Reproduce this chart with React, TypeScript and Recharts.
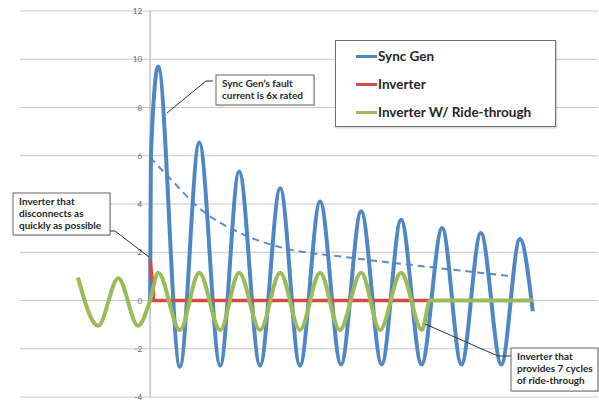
import {
  LineChart, Line, XAxis, YAxis, CartesianGrid, ReferenceLine, Legend,
} from "recharts";

// time axis in cycles (fault at t = 0), current in per-unit
const syncGenT = [0, 0.02, 0.2, 0.74, 1.22, 1.74, 2.21, 2.73, 3.23, 3.72, 4.22, 4.74, 5.24, 5.75, 6.23, 6.74, 7.25, 7.73, 8.21, 8.72, 9.18, 9.5];
const syncGenI = [0, 6.0, 9.7, -2.75, 6.55, -2.7, 5.35, -2.7, 4.65, -2.7, 4.1, -2.65, 3.7, -2.65, 3.35, -2.65, 3.0, -2.65, 2.8, -2.65, 2.55, -0.45];

const envelopeT = [0, 0.5, 1.24, 2.23, 3.3, 4.85, 6.77, 9.0];
const envelopeI = [5.93, 5.05, 3.8, 2.8, 2.18, 1.8, 1.42, 1.0];

const inverterT = [0, 0.05, 0.08, 0.08, 6.95];
const inverterI = [1.7, 0.9, 0.9, 0, 0];

const rideT = [-1.79, -1.29, -0.79, -0.3, 0, 0.2, 0.74, 1.22, 1.74, 2.21, 2.73, 3.23, 3.72, 4.22, 4.71, 5.24, 5.71, 6.23, 6.75, 6.95, 9.5];
const rideI = [0.95, -1.05, 0.92, -1.05, 0, 1.15, -1.22, 1.15, -1.22, 1.15, -1.22, 1.15, -1.22, 1.15, -1.22, 1.15, -1.22, 1.15, -1.22, 0, 0];

const yTicks = [-4, -2, 0, 2, 4, 6, 8, 10, 12];

const seriesNames = ["Sync Gen", "Inverter", "Inverter W/ Ride-through"];
const seriesColors = ["#4f87c5", "#d24b45", "#9bbb59"];

const toPoints = (t: number[], v: number[]) => t.map((x, i) => ({ t: x, v: v[i] }));

const W = 599;
const H = 401;
const Y_AXIS_W = 1;
const M = { top: 11, right: 1, bottom: 4, left: 19 };
const X_MIN = -3.23;
const X_MAX = 11.12;
const plotLeft = M.left + Y_AXIS_W;
const plotW = W - plotLeft - M.right;
const zeroX = plotLeft + ((0 - X_MIN) / (X_MAX - X_MIN)) * plotW;

const FONT = "Lato, 'Liberation Sans', sans-serif";

function YTick(props: any) {
  const { y, payload } = props;
  return (
    <text x={zeroX - 8} y={y} dy={3} textAnchor="end" fontSize={8} fill="#666" fontFamily={FONT}>
      {payload.value}
    </text>
  );
}

function LegendBox() {
  return (
    <div
      style={{
        width: 219, height: 85, border: "1px solid #6f6f6f", background: "#fff",
        boxShadow: "1px 1px 2px rgba(0,0,0,0.2)", fontFamily: FONT, fontWeight: 700,
        fontSize: 13.5, color: "#262626", boxSizing: "content-box",
      }}
    >
      {seriesNames.map((name, i) => (
        <div key={name} style={{ display: "flex", alignItems: "center", height: 28, marginTop: i === 0 ? 1 : 0 }}>
          <span style={{ display: "inline-block", width: 21, height: 3, background: seriesColors[i], marginLeft: 20 }} />
          <span style={{ marginLeft: 1 }}>{name}</span>
        </div>
      ))}
    </div>
  );
}

function Callout({ x, y, w, h, lines, leader }: { x: number; y: number; w: number; h: number; lines: string[]; leader: string }) {
  return (
    <g>
      <polyline points={leader} fill="none" stroke="#333" strokeWidth={1} />
      <rect x={x + 1} y={y + 1} width={w} height={h} fill="rgba(0,0,0,0.15)" />
      <rect x={x} y={y} width={w} height={h} fill="#fff" stroke="#666" strokeWidth={1} />
      {lines.map((ln, i) => (
        <text key={i} x={x + 6} y={y + 12 + i * 12} fontSize={10} fontWeight={700} fill="#262626" fontFamily={FONT}>
          {ln}
        </text>
      ))}
    </g>
  );
}

export default function App() {
  return (
    <div style={{ position: "absolute", left: 0, top: 0, width: W, height: H, background: "#fff" }}>
      <LineChart width={W} height={H} margin={M}>
        <CartesianGrid vertical={false} stroke="#c8c8c8" />
        <XAxis dataKey="t" type="number" domain={[X_MIN, X_MAX]} allowDataOverflow hide />
        <YAxis
          type="number" domain={[-4, 12]} ticks={yTicks} width={Y_AXIS_W}
          axisLine={false} tickLine={false} tick={(p: any) => <YTick {...p} />} interval={0}
        />
        <ReferenceLine x={0} stroke="#b4b4b4" strokeWidth={1.2} />
        <Legend
          layout="vertical" align="center" verticalAlign="middle"
          content={() => <LegendBox />}
          wrapperStyle={{ position: "absolute", left: 335, top: 40, width: 221, height: 87 }}
        />
        <Line
          data={toPoints(envelopeT, envelopeI)} dataKey="v" type="monotone"
          stroke="#5a8ccc" strokeWidth={2} strokeDasharray="7 5" dot={false}
          isAnimationActive={false} legendType="none"
        />
        <Line
          data={toPoints(syncGenT, syncGenI)} dataKey="v" name={seriesNames[0]} type="monotone"
          stroke={seriesColors[0]} strokeWidth={4} dot={false} isAnimationActive={false}
        />
        <Line
          data={toPoints(inverterT, inverterI)} dataKey="v" name={seriesNames[1]} type="linear"
          stroke={seriesColors[1]} strokeWidth={3.5} dot={false} isAnimationActive={false}
        />
        <Line
          data={toPoints(rideT, rideI)} dataKey="v" name={seriesNames[2]} type="monotone"
          stroke={seriesColors[2]} strokeWidth={4} dot={false} isAnimationActive={false}
        />
      </LineChart>
      <svg width={W} height={H} style={{ position: "absolute", left: 0, top: 0, pointerEvents: "none" }}>
        <Callout
          x={216} y={75} w={98} h={30}
          lines={["Sync Gen\u2019s fault", "current is 6x rated"]}
          leader="213,81 206,81 167,113"
        />
        <Callout
          x={13} y={193} w={97} h={42}
          lines={["Inverter that", "disconnects as", "quickly as possible"]}
          leader="110,231 115,231 149,257"
        />
        <Callout
          x={511} y={348} w={87} h={43}
          lines={["Inverter that", "provides 7 cycles", "of ride-through"]}
          leader="425,324 498,356 511,356"
        />
      </svg>
    </div>
  );
}
